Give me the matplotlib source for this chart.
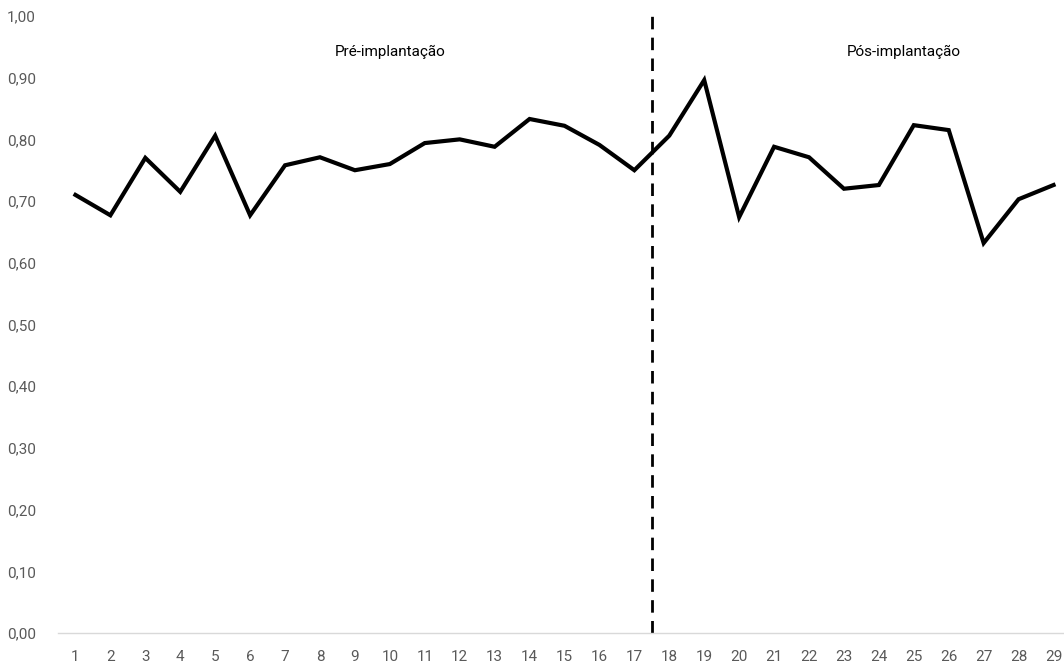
import matplotlib
matplotlib.use('Agg')
import matplotlib.pyplot as plt

# values
periodo = list(range(1, 30))
valores = [0.710, 0.677, 0.770, 0.715, 0.806, 0.677, 0.758, 0.771, 0.750, 0.760,
           0.794, 0.800, 0.788, 0.833, 0.822, 0.791, 0.750, 0.806, 0.896, 0.674,
           0.788, 0.771, 0.720, 0.726, 0.823, 0.815, 0.632, 0.703, 0.726]
y_ticks = [0.0, 0.1, 0.2, 0.3, 0.4, 0.5, 0.6, 0.7, 0.8, 0.9, 1.0]
corte = 17.5

plt.rcParams['font.family'] = ['Liberation Sans Narrow', 'Roboto', 'DejaVu Sans']

fig = plt.figure(figsize=(10.64, 6.63), dpi=100)
ax = fig.add_axes([0.0545, 0.045, 0.9455, 0.931])

ax.plot(periodo, valores, color='black', linewidth=3, solid_joinstyle='miter')
# vertical marker between pre and post periods
ax.axvline(corte, ymin=0, ymax=1.008, color='black', linestyle=(0, (4.5, 3)),
           linewidth=2, clip_on=False)

ax.text(10.0, 0.942, 'Pré-implantação', ha='center', va='center', fontsize=11)
ax.text(24.7, 0.942, 'Pós-implantação', ha='center', va='center', fontsize=11)

ax.set_xlim(0.5, 29.3)
ax.set_ylim(0, 1.0)
ax.set_xticks(periodo)
ax.set_yticks(y_ticks)
ax.set_yticklabels([('%.2f' % v).replace('.', ',') for v in y_ticks])

for s in ['top', 'right', 'left']:
    ax.spines[s].set_visible(False)
ax.spines['bottom'].set_color('#d9d9d9')
ax.spines['bottom'].set_linewidth(1)
ax.tick_params(axis='both', length=0, labelsize=11, colors='#595959')
ax.tick_params(axis='y', pad=16)
ax.tick_params(axis='x', pad=12)

plt.savefig('out.png', dpi=100)
